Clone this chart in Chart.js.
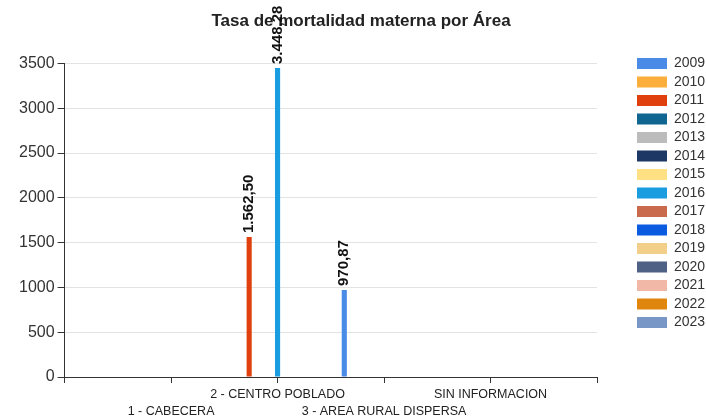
<!DOCTYPE html>
<html>
<head>
<meta charset="utf-8">
<script src="https://cdn.jsdelivr.net/npm/chart.js@4/dist/chart.umd.min.js"></script>
<style>
    html, body { margin: 0; padding: 0; background: #fff; }
    #wrap { width: 706px; height: 418px; }
</style>
</head>
<body>
<div id="wrap"><canvas id="areaChart"></canvas></div>
<script>
// categories (first and last slots are empty, like the original axis)
const areas = ['1 - CABECERA', '2 - CENTRO POBLADO', '3 - AREA RURAL DISPERSA', 'SIN INFORMACION'];
const years = ['2009', '2010', '2011', '2012', '2013', '2014', '2015', '2016',
    '2017', '2018', '2019', '2020', '2021', '2022', '2023'];
const yearColors = ['#4a8be8', '#fbae3c', '#e0400e', '#0f6690', '#bcbcbc', '#1d3865', '#ffe083',
    '#1a9de0', '#c96a4c', '#0a5be0', '#f2d089', '#4f6184', '#f1b8a8', '#e0850e', '#7896c6'];

// values per year, one entry per area
const v2009 = [null, null, 970.87, null];
const v2011 = [null, 1562.50, null, null];
const v2016 = [null, 3448.28, null, null];
const yTicks = [0, 500, 1000, 1500, 2000, 2500, 3000, 3500];

const valuesByYear = { '2009': v2009, '2011': v2011, '2016': v2016 };

// staggered labels: odd ones on the second line
const axisLabels = [''].concat(areas.map((a, i) => i % 2 === 0 ? ['', a] : [a]), ['']);

const datasets = years.map((y, i) => {
    const vals = valuesByYear[y] || [null, null, null, null];
    return {
        label: y,
        data: [null].concat(vals, [null]),
        backgroundColor: yearColors[i],
        borderWidth: 0
    };
});

function formatEs(v) {
    return v.toLocaleString('es-ES', { minimumFractionDigits: 2, maximumFractionDigits: 2 })
        .replace(/^(\d)(\d{3}),/, '$1.$2,');
}

// value labels rotated over the bars
const barLabels = {
    id: 'barLabels',
    afterLayout(chart) {
        // legend sits further right than chart.js would put it
        const lg = chart.legend;
        const shift = 637 - 4.5 - lg.left;
        lg.left += shift;
        lg.right += shift;
    },
    afterDatasetsDraw(chart) {
        const ctx = chart.ctx;
        ctx.save();
        ctx.font = 'bold 15px "Liberation Sans", Arial, sans-serif';
        ctx.fillStyle = '#111';
        ctx.textAlign = 'left';
        ctx.textBaseline = 'middle';
        chart.data.datasets.forEach((ds, i) => {
            const meta = chart.getDatasetMeta(i);
            meta.data.forEach((bar, j) => {
                const v = ds.data[j];
                if (v === null || v === undefined) return;
                ctx.save();
                ctx.translate(bar.x, bar.y - 4);
                ctx.rotate(-Math.PI / 2);
                ctx.fillText(formatEs(v), 0, 0);
                ctx.restore();
            });
        });
        ctx.restore();
    }
};

new Chart(document.getElementById('areaChart'), {
    type: 'bar',
    data: { labels: axisLabels, datasets: datasets },
    options: {
        responsive: true,
        maintainAspectRatio: false,
        animation: false,
        layout: { padding: { left: 16, right: 0, top: 0, bottom: 0 } },
        plugins: {
            title: {
                display: true,
                text: 'Tasa de mortalidad materna por Área',
                color: '#222',
                font: { family: '"Liberation Sans", Arial, sans-serif', size: 17, weight: 'bold' },
                padding: { top: 11, bottom: 32 }
            },
            legend: {
                position: 'right',
                align: 'start',
                title: {
                    display: true,
                    text: ' ',
                    font: { size: 10, lineHeight: 1 },
                    padding: { top: 42, bottom: 0 }
                },
                labels: {
                    color: '#333',
                    font: { family: '"Liberation Sans", Arial, sans-serif', size: 14 },
                    boxWidth: 30,
                    boxHeight: 11,
                    padding: 4.5
                }
            },
            tooltip: { enabled: false }
        },
        scales: {
            x: {
                offset: false,
                grid: { display: true, offset: false, drawOnChartArea: false, tickLength: 6, tickColor: '#333' },
                border: { color: '#333', width: 1 },
                ticks: {
                    autoSkip: false,
                    maxRotation: 0,
                    minRotation: 0,
                    padding: 3,
                    color: '#222',
                    font: { family: '"Liberation Sans", Arial, sans-serif', size: 12.5, lineHeight: 1.36 }
                },
                afterFit(scale) {
                    scale.paddingRight = 109;
                    scale.height -= 5;
                }
            },
            y: {
                min: 0,
                max: 3500,
                afterBuildTicks(scale) { scale.ticks = yTicks.map(v => ({ value: v })); },
                grid: { color: '#e3e3e3', tickLength: 7, tickColor: '#333' },
                border: { color: '#333', width: 1 },
                ticks: {
                    color: '#333',
                    padding: 3,
                    font: { family: '"Liberation Sans", Arial, sans-serif', size: 16 },
                    callback: v => String(v)
                }
            }
        }
    },
    plugins: [barLabels]
});
</script>
</body>
</html>
